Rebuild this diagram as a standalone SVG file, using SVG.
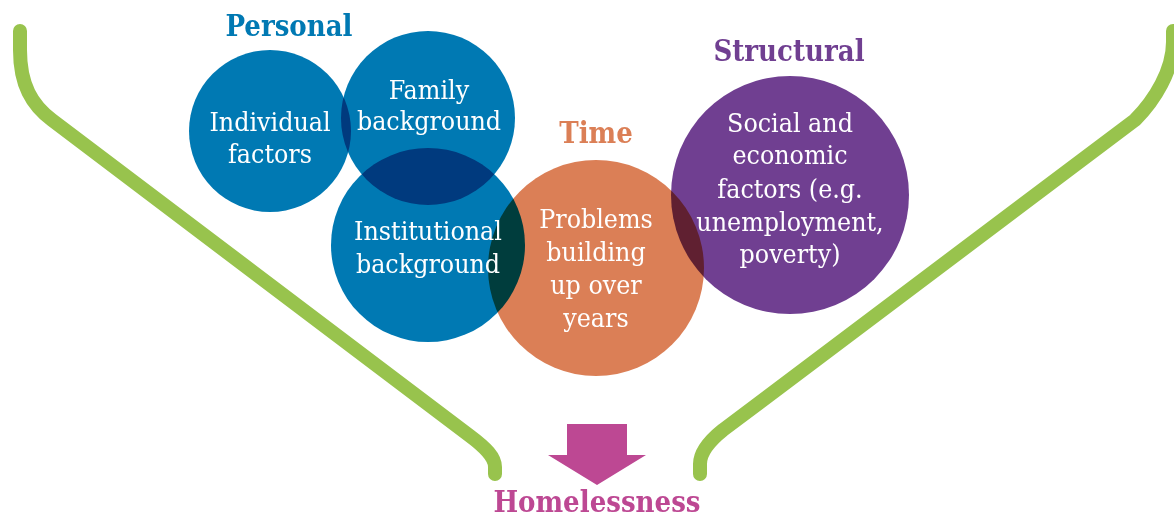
<svg xmlns="http://www.w3.org/2000/svg" width="1174" height="517" viewBox="0 0 1174 517">
  <style>
    .disc { mix-blend-mode: multiply; }
    .blue { fill: #0079B3; }
    .orange { fill: #DB7F56; }
    .purple { fill: #703F91; }
    .label { font-family: "DejaVu Serif Condensed", "DejaVu Serif", serif; font-size: 26.5px; fill: #FFFFFF; text-anchor: middle; }
    .title { font-family: "DejaVu Serif Condensed", "DejaVu Serif", serif; font-weight: bold; font-size: 29px; text-anchor: middle; }
    .funnel { fill: none; stroke: #98C34D; stroke-width: 14; stroke-linecap: round; stroke-linejoin: round; }
  </style>

  <rect width="1174" height="517" fill="#FFFFFF"/>

  <!-- funnel sides and downward arrow -->
  <g id="connectors">
    <path class="funnel" d="M20,31 L20,50 C20,85 32,105 52,120 L470,436 C486,448 495,457 495,467 L495,474"/>
    <path class="funnel" d="M1173,31 L1173,42 C1173,70 1155,100 1135,120 L723,430 C708,442 700,453 700,464 L700,474"/>
    <polygon id="arrow" points="567,424 627,424 627,455 646,455 597,485 548,455 567,455" fill="#BD4893"/>
  </g>

  <!-- overlapping factor circles (multiply gives the darker overlaps) -->
  <g id="circles">
    <circle id="c-individual" class="disc blue" cx="270" cy="131" r="81"/>
    <circle id="c-family" class="disc blue" cx="428" cy="118" r="87"/>
    <circle id="c-institutional" class="disc blue" cx="428" cy="245" r="97"/>
    <circle id="c-time" class="disc orange" cx="596" cy="268" r="108"/>
    <circle id="c-structural" class="disc purple" cx="790" cy="195" r="119"/>
  </g>

  <g id="personal-title">
    <text class="title" x="289" y="36" fill="#0079B3">Personal</text>
  </g>
  <g id="time-title">
    <text class="title" x="596" y="143" fill="#DB7F56">Time</text>
  </g>
  <g id="structural-title">
    <text class="title" x="789" y="61" fill="#703F91">Structural</text>
  </g>

  <g id="individual">
    <text class="label" x="270" y="131">Individual</text>
    <text class="label" x="270" y="163">factors</text>
  </g>
  <g id="family">
    <text class="label" x="429" y="99">Family</text>
    <text class="label" x="429" y="130">background</text>
  </g>
  <g id="institutional">
    <text class="label" x="428" y="240">Institutional</text>
    <text class="label" x="428" y="273">background</text>
  </g>
  <g id="time">
    <text class="label" x="596" y="228">Problems</text>
    <text class="label" x="596" y="261">building</text>
    <text class="label" x="596" y="294">up over</text>
    <text class="label" x="596" y="327">years</text>
  </g>
  <g id="structural">
    <text class="label" x="790" y="132">Social and</text>
    <text class="label" x="790" y="164">economic</text>
    <text class="label" x="790" y="198">factors (e.g.</text>
    <text class="label" x="790" y="231">unemployment,</text>
    <text class="label" x="790" y="263">poverty)</text>
  </g>

  <g id="homelessness">
    <text class="title" x="597" y="512" fill="#BD4893">Homelessness</text>
  </g>
</svg>
